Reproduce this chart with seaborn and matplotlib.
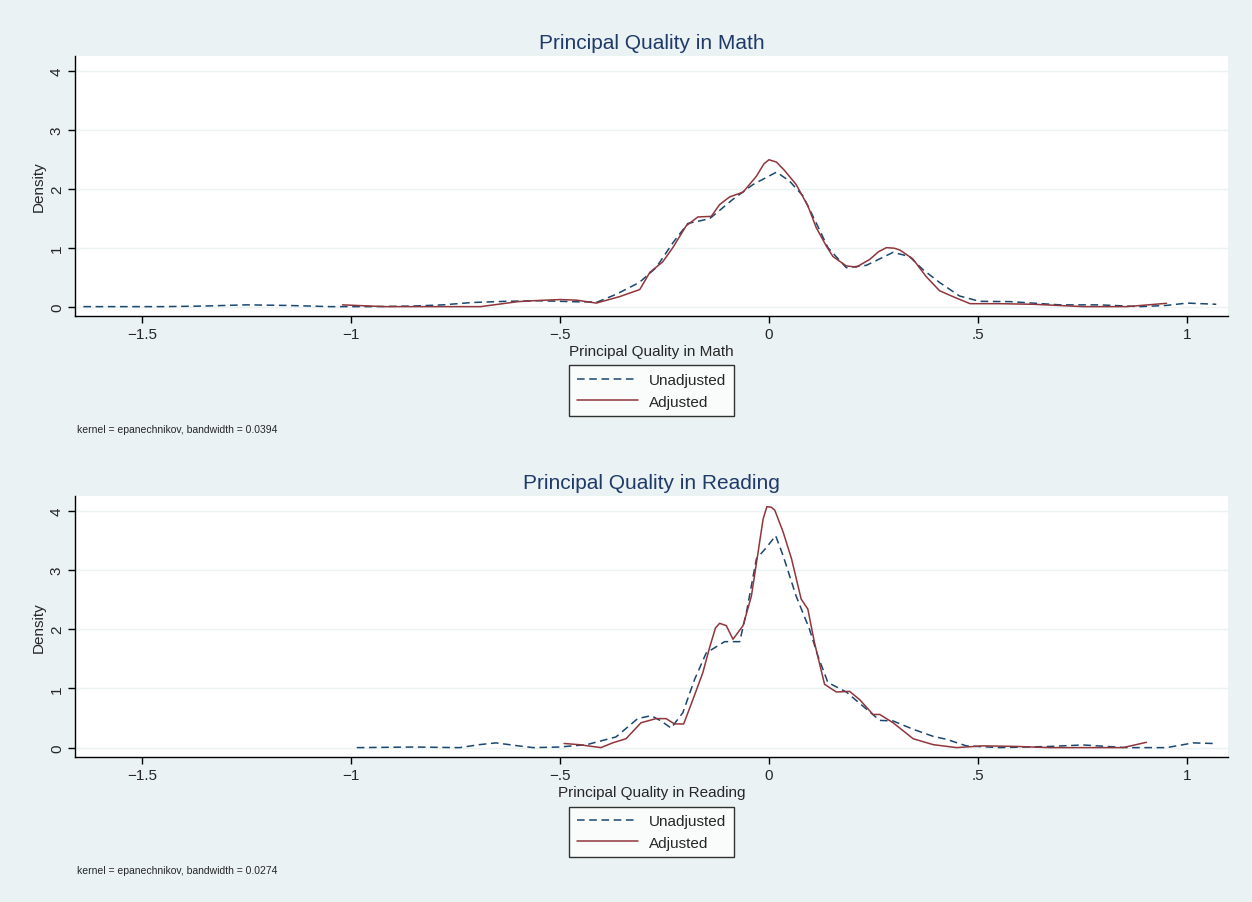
# Principal quality kernel densities - unadjusted vs adjusted (math and reading)
import matplotlib
matplotlib.use("Agg")
import matplotlib.pyplot as plt
import seaborn as sns

# --- 1. DATA ---
math_unadj_x = [-1.64, -1.45, -1.35, -1.25, -1.15, -1.05, -0.95, -0.85, -0.78, -0.71, -0.63,
                -0.55, -0.50, -0.45, -0.41, -0.365, -0.31, -0.27, -0.23, -0.194, -0.142, -0.086,
                -0.038, 0.018, 0.049, 0.081, 0.113, 0.141, 0.185, 0.233, 0.297, 0.336, 0.368,
                0.408, 0.456, 0.504, 0.576, 0.696, 0.791, 0.887, 0.95, 1.0, 1.07]
math_unadj_y = [0.0, 0.0, 0.01, 0.03, 0.02, 0.0, 0.0, 0.01, 0.03, 0.07, 0.09,
                0.10, 0.09, 0.08, 0.08, 0.21, 0.41, 0.66, 1.08, 1.41, 1.49, 1.82,
                2.07, 2.28, 2.13, 1.88, 1.42, 1.0, 0.66, 0.70, 0.92, 0.85, 0.63,
                0.41, 0.18, 0.09, 0.085, 0.03, 0.03, 0.0, 0.02, 0.06, 0.04]

math_adj_x = [-1.02, -0.92, -0.80, -0.69, -0.60, -0.565, -0.5, -0.46, -0.413, -0.357, -0.309,
              -0.285, -0.254, -0.23, -0.198, -0.17, -0.138, -0.118, -0.094, -0.062, -0.03, -0.012,
              0.0, 0.018, 0.037, 0.065, 0.093, 0.113, 0.137, 0.153, 0.185, 0.209, 0.241, 0.262,
              0.281, 0.300, 0.313, 0.344, 0.376, 0.408, 0.44, 0.481, 0.552, 0.632, 0.752, 0.856, 0.951]
math_adj_y = [0.03, 0.0, 0.0, 0.0, 0.085, 0.10, 0.12, 0.11, 0.06, 0.17, 0.29,
              0.58, 0.76, 1.0, 1.37, 1.52, 1.53, 1.73, 1.86, 1.94, 2.21, 2.42,
              2.49, 2.45, 2.31, 2.07, 1.71, 1.34, 1.03, 0.85, 0.69, 0.67, 0.80, 0.93,
              1.0, 0.99, 0.96, 0.81, 0.51, 0.27, 0.17, 0.05, 0.05, 0.04, 0.0, 0.0, 0.056]

read_unadj_x = [-0.986, -0.85, -0.74, -0.693, -0.653, -0.60, -0.564, -0.502, -0.436, -0.366,
                -0.314, -0.282, -0.258, -0.234, -0.206, -0.178, -0.150, -0.106, -0.070, -0.054,
                -0.030, -0.006, 0.016, 0.034, 0.065, 0.097, 0.117, 0.141, 0.185, 0.225, 0.265,
                0.297, 0.345, 0.393, 0.425, 0.472, 0.552, 0.672, 0.751, 0.855, 0.951, 1.015, 1.062]
read_unadj_y = [0.0, 0.01, 0.0, 0.05, 0.08, 0.03, 0.0, 0.01, 0.05, 0.18,
                0.49, 0.54, 0.45, 0.33, 0.59, 1.15, 1.60, 1.79, 1.79, 2.28,
                3.19, 3.38, 3.58, 3.24, 2.56, 2.0, 1.55, 1.10, 0.94, 0.70, 0.46,
                0.45, 0.31, 0.19, 0.14, 0.03, 0.0, 0.02, 0.045, 0.0, 0.0, 0.08, 0.07]

read_adj_x = [-0.49, -0.454, -0.402, -0.374, -0.342, -0.306, -0.270, -0.246, -0.226, -0.204,
              -0.182, -0.158, -0.142, -0.128, -0.118, -0.102, -0.086, -0.062, -0.042, -0.026,
              -0.014, -0.005, 0.006, 0.014, 0.034, 0.054, 0.077, 0.093, 0.109, 0.133, 0.161,
              0.193, 0.217, 0.249, 0.265, 0.297, 0.345, 0.393, 0.449, 0.512, 0.592, 0.672,
              0.847, 0.903]
read_adj_y = [0.07, 0.05, 0.0, 0.08, 0.15, 0.42, 0.49, 0.49, 0.40, 0.40,
              0.81, 1.27, 1.69, 2.02, 2.10, 2.06, 1.83, 2.06, 2.56, 3.30,
              3.86, 4.07, 4.06, 4.01, 3.64, 3.19, 2.51, 2.34, 1.77, 1.07, 0.94,
              0.95, 0.81, 0.56, 0.56, 0.42, 0.15, 0.05, 0.0, 0.03, 0.02, 0.0,
              0.0, 0.09]

x_ticks = [-1.5, -1, -0.5, 0, 0.5, 1]
x_tick_labels = ['\u22121.5', '\u22121', '\u2212.5', '0', '.5', '1']
y_ticks = [0, 1, 2, 3, 4]

series_names = ['Unadjusted', 'Adjusted']
panel_titles = ['Principal Quality in Math', 'Principal Quality in Reading']
notes = ['kernel = epanechnikov, bandwidth = 0.0394',
         'kernel = epanechnikov, bandwidth = 0.0274']

# --- 2. STYLE ---
BG = '#EAF2F3'
NAVY = '#1a476f'
MAROON = '#90353b'
TITLE_COLOR = '#1f3a68'


def draw_panel(ax, unadj_x, unadj_y, adj_x, adj_y, title):
    sns.lineplot(x=unadj_x, y=unadj_y, ax=ax, color=NAVY, linewidth=1.1,
                 sort=False, estimator=None, label=series_names[0])
    ax.lines[-1].set_dashes((5, 3))
    sns.lineplot(x=adj_x, y=adj_y, ax=ax, color=MAROON, linewidth=1.1,
                 sort=False, estimator=None, label=series_names[1])

    ax.set_facecolor('white')
    ax.set_xlim(-1.66, 1.098)
    ax.set_ylim(-0.158, 4.25)
    ax.set_xticks(x_ticks)
    ax.set_xticklabels(x_tick_labels)
    ax.set_yticks(y_ticks)
    ax.set_yticklabels([str(v) for v in y_ticks], rotation=90, va='center')
    ax.yaxis.grid(True, color=BG, linewidth=1.0)
    ax.xaxis.grid(False)
    ax.set_axisbelow(True)

    for side in ['top', 'right']:
        ax.spines[side].set_visible(False)
    for side in ['left', 'bottom']:
        ax.spines[side].set_color('black')
        ax.spines[side].set_linewidth(1.0)
    ax.tick_params(axis='both', direction='out', length=5, width=1.0,
                   color='black', labelsize=11, pad=3, left=True, bottom=True)

    ax.set_title(title, fontsize=15, color=TITLE_COLOR, pad=6)
    ax.set_xlabel(title, fontsize=11, labelpad=2)
    ax.set_ylabel('Density', fontsize=11, labelpad=3)

    leg = ax.legend(loc='upper center', bbox_to_anchor=(0.5, -0.19), ncol=1,
                    frameon=True, fancybox=False, fontsize=11, handlelength=4.0,
                    handletextpad=0.7, labelspacing=0.5, borderpad=0.5,
                    borderaxespad=0.0)
    leg.get_frame().set_edgecolor('black')
    leg.get_frame().set_linewidth(1.0)
    leg.get_frame().set_facecolor('white')


def run_chart():
    sns.set_style('white')
    plt.rcParams['font.family'] = ['Liberation Sans', 'DejaVu Sans']

    fig = plt.figure(figsize=(12.52, 9.03), dpi=100, facecolor=BG)

    # axes positions in figure fractions (left, bottom, width, height)
    ax_top = fig.add_axes([0.0599, 0.649, 0.9209, 0.288])
    ax_bot = fig.add_axes([0.0599, 0.1606, 0.9209, 0.289])

    draw_panel(ax_top, math_unadj_x, math_unadj_y, math_adj_x, math_adj_y, panel_titles[0])
    draw_panel(ax_bot, read_unadj_x, read_unadj_y, read_adj_x, read_adj_y, panel_titles[1])

    fig.text(0.0615, 1 - 430 / 903, notes[0], fontsize=7.5, va='center', ha='left')
    fig.text(0.0615, 1 - 871 / 903, notes[1], fontsize=7.5, va='center', ha='left')

    fig.savefig('out.png', dpi=100, facecolor=BG)


if __name__ == "__main__":
    run_chart()
